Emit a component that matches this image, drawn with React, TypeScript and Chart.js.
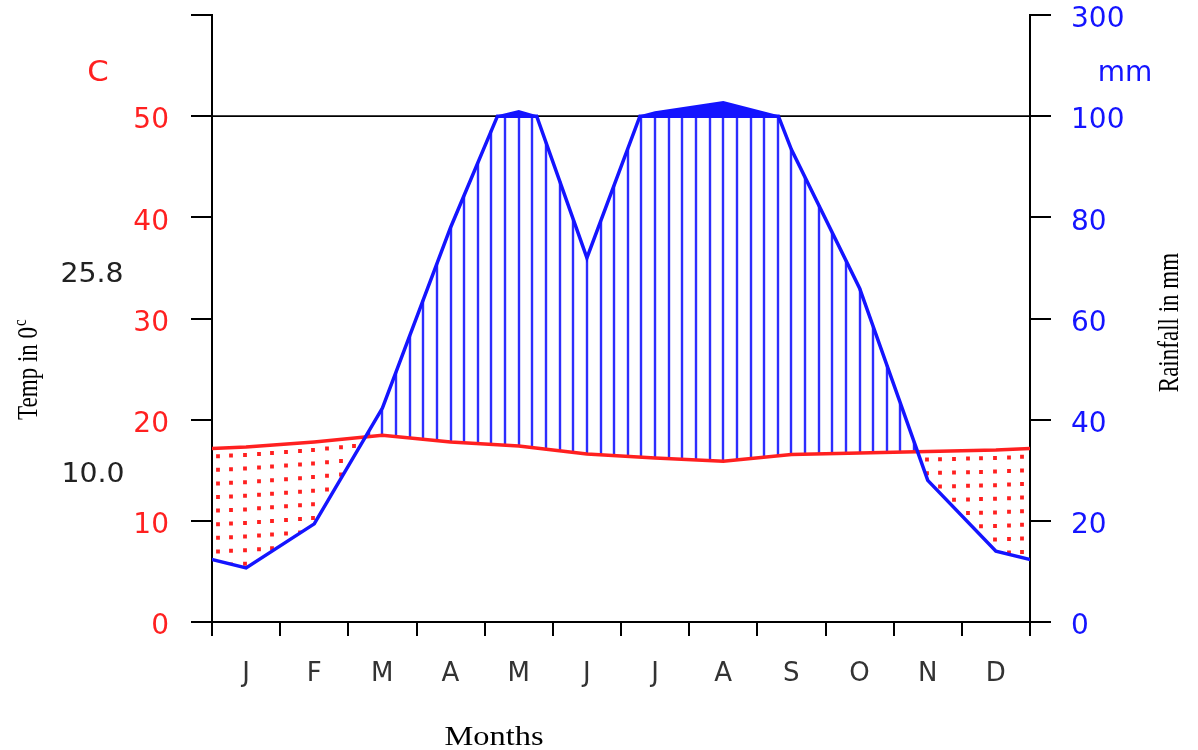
import React, { useEffect, useRef } from 'react';
import { Chart, registerables } from 'chart.js';

Chart.register(...registerables);

// ---------- data ----------
const months = ['J', 'F', 'M', 'A', 'M', 'J', 'J', 'A', 'S', 'O', 'N', 'D'];
const tempMean = [17.3, 17.8, 18.45, 17.8, 17.4, 16.6, 16.2, 15.9, 16.55, 16.7, 16.85, 17.0];
const rainfall = [10.7, 19.4, 42.3, 78, 110, 72, 108, 128, 93.4, 66, 28, 14];
const rainTickLabels = ['0', '20', '40', '60', '80', '100', '300'];
const annotMaxLabel = '25.8';
const annotMinLabel = '10.0';

const RED = 'rgb(255,32,32)';
const BLUE = 'rgb(20,20,255)';
const HATCH_BLUE = 'rgb(45,45,255)';

// month centres with one wrapped month on each side (Dec before, Jan after)
const xExt = [-0.5, 0.5, 1.5, 2.5, 3.5, 4.5, 5.5, 6.5, 7.5, 8.5, 9.5, 10.5, 11.5, 12.5];
const tExt = [tempMean[11], ...tempMean, tempMean[0]];
const pExt = [rainfall[11], ...rainfall, rainfall[0]];

const compress = (p: number) => (p <= 100 ? p / 2 : 50 + (p - 100) / 20);

function interp(xs: number[], ys: number[], x: number) {
  for (let i = 1; i < xs.length; i++) {
    if (x <= xs[i]) {
      const f = (x - xs[i - 1]) / (xs[i] - xs[i - 1]);
      return ys[i - 1] + f * (ys[i] - ys[i - 1]);
    }
  }
  return ys[ys.length - 1];
}

function crossX(i: number) {
  const a = pExt[i - 1], b = pExt[i];
  return xExt[i - 1] + ((100 - a) / (b - a)) * (xExt[i] - xExt[i - 1]);
}

// rainfall line clipped at 100 mm (= 50 on temperature scale)
const rainLine: { x: number; y: number }[] = [];
for (let i = 0; i < pExt.length; i++) {
  if (i > 0 && (pExt[i - 1] - 100) * (pExt[i] - 100) < 0) rainLine.push({ x: crossX(i), y: 50 });
  rainLine.push({ x: xExt[i], y: Math.min(pExt[i] / 2, 50) });
}

// parts above 100 mm on compressed scale
const bumps: { x: number; y: number }[][] = [];
let cur: { x: number; y: number }[] | null = null;
for (let i = 0; i < pExt.length; i++) {
  const p = pExt[i];
  if (p > 100) {
    if (!cur) {
      cur = [];
      if (i > 0) cur.push({ x: crossX(i), y: 50 });
    }
    cur.push({ x: xExt[i], y: compress(p) });
  } else if (cur) {
    cur.push({ x: crossX(i), y: 50 });
    bumps.push(cur);
    cur = null;
  }
}
if (cur) bumps.push(cur);

const tempLine = xExt.map((x, i) => ({ x, y: tExt[i] }));

const hatchPlugin = {
  id: 'hatch',
  beforeDatasetsDraw(chart: any) {
    const { ctx, chartArea, scales } = chart;
    const xs = scales.x, ys = scales.y;
    ctx.save();
    ctx.beginPath();
    ctx.rect(chartArea.left, chartArea.top, chartArea.right - chartArea.left, chartArea.bottom - chartArea.top);
    ctx.clip();
    for (let k = 0; k < 60; k++) {
      const xv = 0.1 + k * 0.2;
      const t = interp(xExt, tExt, xv);
      const r = Math.min(interp(xExt, pExt, xv) / 2, 50);
      const px = Math.round(xs.getPixelForValue(xv));
      ctx.beginPath();
      if (r > t) {
        ctx.setLineDash([]);
        ctx.strokeStyle = HATCH_BLUE;
        ctx.lineWidth = 2.4;
        ctx.moveTo(px, ys.getPixelForValue(t));
        ctx.lineTo(px, ys.getPixelForValue(r));
      } else {
        ctx.setLineDash([4, 9.6]);
        ctx.strokeStyle = RED;
        ctx.lineWidth = 3.8;
        ctx.moveTo(px - 1, ys.getPixelForValue(t) + 6);
        ctx.lineTo(px - 1, ys.getPixelForValue(r));
      }
      ctx.stroke();
    }
    ctx.restore();
  },
};

function stretchText(ctx: CanvasRenderingContext2D, text: string, cx: number, cy: number, sx: number) {
  ctx.save();
  ctx.translate(cx, cy);
  ctx.scale(sx, 1);
  ctx.textAlign = 'center';
  ctx.textBaseline = 'middle';
  ctx.fillText(text, 0, 0);
  ctx.restore();
}

const textPlugin = {
  id: 'texts',
  afterDraw(chart: any) {
    const { ctx, chartArea, scales } = chart;
    const ys = scales.y;
    ctx.save();
    // unit labels
    ctx.font = '28px "DejaVu Sans"';
    ctx.fillStyle = RED;
    stretchText(ctx, 'C', chartArea.left - 114, ys.getPixelForValue(54.8) + 6, 1.1);
    ctx.fillStyle = BLUE;
    stretchText(ctx, 'mm', chartArea.right + 95, ys.getPixelForValue(54.8) + 6, 1.0);
    // annotations
    ctx.font = '27px "DejaVu Sans"';
    ctx.fillStyle = '#222';
    stretchText(ctx, annotMaxLabel, chartArea.left - 120, ys.getPixelForValue(34.7) + 4, 1.05);
    stretchText(ctx, annotMinLabel, chartArea.left - 119, ys.getPixelForValue(14.9) + 4, 1.05);
    // axis titles
    ctx.fillStyle = '#000';
    ctx.save();
    ctx.translate(29, ys.getPixelForValue(24.9));
    ctx.rotate(-Math.PI / 2);
    ctx.scale(1, 1.3);
    ctx.textBaseline = 'middle';
    ctx.textAlign = 'left';
    const main = 'Temp in 0';
    ctx.font = '23px "Liberation Serif"';
    const wMain = ctx.measureText(main).width;
    ctx.font = '15px "Liberation Serif"';
    const wSup = ctx.measureText('c').width;
    const startX = -(wMain + wSup) / 2;
    ctx.font = '23px "Liberation Serif"';
    ctx.fillText(main, startX, 0);
    ctx.font = '15px "Liberation Serif"';
    ctx.fillText('c', startX + wMain + 1, -6);
    ctx.restore();

    ctx.save();
    ctx.font = '23px "Liberation Serif"';
    ctx.translate(chartArea.right + 140, ys.getPixelForValue(29.6));
    ctx.rotate(-Math.PI / 2);
    ctx.scale(1, 1.3);
    ctx.textAlign = 'center';
    ctx.textBaseline = 'middle';
    ctx.fillText('Rainfall in mm', 0, 0);
    ctx.restore();

    ctx.font = '27px "Liberation Serif"';
    stretchText(ctx, 'Months', 494, 738, 1.2);
    ctx.restore();
  },
};

const zeroPad = (s: any) => {
  s.paddingTop = 0;
  s.paddingBottom = 0;
  s.paddingLeft = 0;
  s.paddingRight = 0;
};

export default function App() {
  const ref = useRef<HTMLCanvasElement>(null);
  useEffect(() => {
    if (!ref.current) return;
    const chart = new Chart(ref.current, {
      type: 'line',
      data: {
        datasets: [
          ...bumps.map((b) => ({
            data: b,
            borderColor: BLUE,
            backgroundColor: BLUE,
            borderWidth: 2,
            pointRadius: 0,
            fill: { value: 50 },
            order: 0,
          })),
          {
            data: rainLine,
            borderColor: BLUE,
            borderWidth: 3.5,
            pointRadius: 0,
            fill: false,
            order: 1,
          },
          {
            data: tempLine,
            borderColor: RED,
            borderWidth: 3.5,
            pointRadius: 0,
            fill: false,
            order: 2,
          },
          {
            data: [
              { x: 0, y: 50 },
              { x: 12, y: 50 },
            ],
            borderColor: '#000',
            borderWidth: 1.8,
            pointRadius: 0,
            fill: false,
            order: 3,
          },
        ] as any,
      },
      options: {
        animation: false,
        responsive: false,
        layout: { padding: { top: 15, left: 0, right: 0, bottom: 0 } },
        plugins: { legend: { display: false }, tooltip: { enabled: false } },
        elements: { line: { tension: 0 } },
        scales: {
          x: {
            type: 'linear',
            min: 0,
            max: 12,
            afterFit: (s: any) => {
              s.height = 128;
              zeroPad(s);
            },
            afterBuildTicks: (s: any) => {
              s.ticks = months.map((_, i) => ({ value: i })).concat([{ value: 12 }]);
            },
            ticks: {
              autoSkip: false,
              maxRotation: 0,
              minRotation: 0,
              labelOffset: 34,
              padding: 23,
              color: '#333',
              font: { family: 'DejaVu Sans', size: 26 },
              callback: (v: any) => (v < 12 ? months[v] : ''),
            },
            grid: { drawOnChartArea: false, drawTicks: true, tickLength: 14, color: '#000', lineWidth: 2 },
            border: { display: true, color: '#000', width: 2 },
          },
          y: {
            type: 'linear',
            position: 'left',
            min: 0,
            max: 60,
            afterFit: (s: any) => {
              s.width = 212;
              zeroPad(s);
            },
            ticks: {
              stepSize: 10,
              padding: 22,
              labelOffset: 5,
              color: RED,
              font: { family: 'DejaVu Sans', size: 28 },
              callback: (v: any) => (v >= 60 ? '' : String(v)),
            },
            grid: { drawOnChartArea: false, drawTicks: true, tickLength: 21, color: '#000', lineWidth: 2 },
            border: { display: true, color: '#000', width: 2 },
          },
          y2: {
            type: 'linear',
            position: 'right',
            min: 0,
            max: 60,
            afterFit: (s: any) => {
              s.width = 168;
              zeroPad(s);
            },
            ticks: {
              stepSize: 10,
              padding: 20,
              labelOffset: 5,
              color: BLUE,
              font: { family: 'DejaVu Sans', size: 28 },
              callback: (v: any) => rainTickLabels[Math.round(v / 10)],
            },
            grid: { drawOnChartArea: false, drawTicks: true, tickLength: 21, color: '#000', lineWidth: 2 },
            border: { display: true, color: '#000', width: 2 },
          },
        },
      },
      plugins: [hatchPlugin, textPlugin],
    });
    return () => chart.destroy();
  }, []);
  return (
    <div style={{ position: 'absolute', left: 0, top: 0, width: 1198, height: 750, background: '#fff' }}>
      <canvas ref={ref} width={1198} height={750} style={{ display: 'block' }} />
    </div>
  );
}
